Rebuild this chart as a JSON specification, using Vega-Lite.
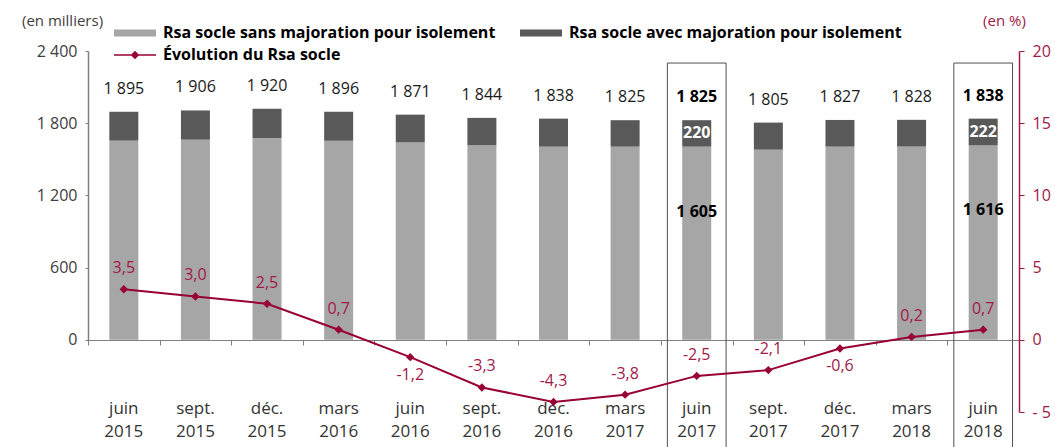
{
  "$schema": "https://vega.github.io/schema/vega-lite/v6.json",
  "width": 931,
  "height": 361,
  "autosize": {"type": "none"},
  "padding": {"left": 88, "top": 51, "right": 36, "bottom": 35},
  "background": "white",
  "config": {
    "font": "Open Sans",
    "view": {"stroke": null},
    "axis": {"grid": false},
    "locale": {"number": {"decimal": ",", "thousands": " ", "grouping": [3], "currency": ["", " €"], "minus": "-"}}
  },
  "data": {
    "values": [
      {"periode": "juin 2015", "sans": 1655, "avec": 240, "total": 1895, "evolution": 3.5},
      {"periode": "sept. 2015", "sans": 1663, "avec": 243, "total": 1906, "evolution": 3.0},
      {"periode": "déc. 2015", "sans": 1677, "avec": 243, "total": 1920, "evolution": 2.5},
      {"periode": "mars 2016", "sans": 1655, "avec": 241, "total": 1896, "evolution": 0.7},
      {"periode": "juin 2016", "sans": 1641, "avec": 230, "total": 1871, "evolution": -1.2},
      {"periode": "sept. 2016", "sans": 1619, "avec": 225, "total": 1844, "evolution": -3.3},
      {"periode": "déc. 2016", "sans": 1605, "avec": 233, "total": 1838, "evolution": -4.3},
      {"periode": "mars 2017", "sans": 1605, "avec": 220, "total": 1825, "evolution": -3.8},
      {"periode": "juin 2017", "sans": 1605, "avec": 220, "total": 1825, "evolution": -2.5},
      {"periode": "sept. 2017", "sans": 1580, "avec": 225, "total": 1805, "evolution": -2.1},
      {"periode": "déc. 2017", "sans": 1605, "avec": 222, "total": 1827, "evolution": -0.6},
      {"periode": "mars 2018", "sans": 1606, "avec": 222, "total": 1828, "evolution": 0.2},
      {"periode": "juin 2018", "sans": 1616, "avec": 222, "total": 1838, "evolution": 0.7}
    ]
  },
  "resolve": {"scale": {"y": "independent"}, "axis": {"x": "independent", "y": "independent"}},
  "layer": [
    {
      "resolve": {"axis": {"x": "independent"}},
      "layer": [
        {
          "transform": [{"filter": {"field": "periode", "oneOf": ["juin 2017", "juin 2018"]}}],
          "mark": {"type": "bar", "width": {"band": 0.82}, "filled": false, "stroke": "#505050", "strokeWidth": 1, "clip": false},
          "encoding": {
            "x": {"field": "periode", "type": "nominal", "sort": null,
              "scale": {"domain": ["juin 2015", "sept. 2015", "déc. 2015", "mars 2016", "juin 2016", "sept. 2016", "déc. 2016", "mars 2017", "juin 2017", "sept. 2017", "déc. 2017", "mars 2018", "juin 2018"], "paddingInner": 0, "paddingOuter": 0},
              "axis": {"orient": "bottom", "offset": -72, "labels": false, "domain": true, "domainColor": "#808080", "domainWidth": 1, "ticks": true, "tickColor": "#808080", "tickSize": 5, "tickBand": "extent", "title": null, "grid": false}},
            "y": {"datum": 2300, "type": "quantitative", "scale": {"domain": [-600, 2400], "nice": false, "zero": false},
              "axis": {"orient": "left", "values": [0, 600, 1200, 1800, 2400], "labelExpr": "format(datum.value, ',')", "labelFontSize": 16, "labelColor": "#404040", "labelPadding": 8,
                "ticks": true, "tickSize": 3, "tickColor": "#808080", "tickWidth": 1,
                "domain": true, "domainColor": "#808080", "domainWidth": 1.5, "domainDash": [0, 72, 289, 20], "zindex": 1,
                "title": "(en milliers)", "titleAngle": 0, "titleX": -26, "titleY": -31, "titleAlign": "center", "titleBaseline": "middle", "titleFontWeight": "normal", "titleFontSize": 15, "titleColor": "#404040"}},
            "y2": {"datum": -900}
          }
        },
        {
          "mark": {"type": "bar", "width": {"band": 0.405}},
          "encoding": {
            "x": {"field": "periode", "type": "nominal", "sort": null,
              "axis": {"orient": "bottom", "domain": false, "ticks": false, "labelPadding": -12, "labelExpr": "split(datum.value, ' ')", "labelFont": "Open Sans", "labelFontSize": 17, "labelLineHeight": 23, "labelColor": "#333333", "labelAngle": 0, "title": null}},
            "y": {"field": "sans", "type": "quantitative", "scale": {"domain": [-600, 2400], "nice": false, "zero": false}},
            "color": {"datum": "Rsa socle sans majoration pour isolement",
              "scale": {"domain": ["Rsa socle sans majoration pour isolement", "Rsa socle avec majoration pour isolement", "Évolution du Rsa socle"], "range": ["#a6a6a6", "#595959", "#990033"]},
              "legend": {"orient": "none", "legendX": 25, "legendY": -26, "columns": 2, "direction": "horizontal", "title": null,
                "symbolSize": 196, "labelOffset": 34, "columnPadding": 23, "rowPadding": 6,
                "labelFont": "Open Sans", "labelFontSize": 16, "labelFontWeight": "bold", "labelColor": "#000000", "labelLimit": 0,
                "encode": {"symbols": {"update": {
                  "fill": {"scale": "color", "field": "value"},
                  "stroke": {"value": "transparent"},
                  "strokeWidth": {"value": 0},
                  "opacity": {"value": 1},
                  "shape": {"signal": "datum.value === 'Évolution du Rsa socle' ? 'M-1,-0.1H5V0.1H-1Z M2,-0.6L2.6,0L2,0.6L1.4,0Z' : 'M-1,-0.5H5V0.5H-1Z'"}
                }}}}}
          }
        },
        {
          "mark": {"type": "bar", "width": {"band": 0.405}},
          "encoding": {
            "x": {"field": "periode", "type": "nominal", "sort": null, "axis": null},
            "y": {"field": "total", "type": "quantitative", "scale": {"domain": [-600, 2400], "nice": false, "zero": false}},
            "y2": {"field": "sans"},
            "color": {"datum": "Rsa socle avec majoration pour isolement"}
          }
        },
        {
          "transform": [{"filter": {"not": {"field": "periode", "oneOf": ["juin 2017", "juin 2018"]}}}],
          "mark": {"type": "text", "dy": -23, "fontSize": 16, "color": "#1a1a1a", "baseline": "middle"},
          "encoding": {
            "x": {"field": "periode", "type": "nominal", "sort": null, "axis": null},
            "y": {"field": "total", "type": "quantitative", "scale": {"domain": [-600, 2400], "nice": false, "zero": false}},
            "text": {"field": "total", "type": "quantitative", "format": ","}
          }
        },
        {
          "transform": [{"filter": {"field": "periode", "oneOf": ["juin 2017", "juin 2018"]}}],
          "mark": {"type": "text", "dy": -23, "fontSize": 16, "fontWeight": "bold", "color": "#000000", "baseline": "middle"},
          "encoding": {
            "x": {"field": "periode", "type": "nominal", "sort": null, "axis": null},
            "y": {"field": "total", "type": "quantitative", "scale": {"domain": [-600, 2400], "nice": false, "zero": false}},
            "text": {"field": "total", "type": "quantitative", "format": ","}
          }
        },
        {
          "transform": [{"filter": {"field": "periode", "oneOf": ["juin 2017", "juin 2018"]}}],
          "mark": {"type": "text", "dy": 13, "fontSize": 16, "fontWeight": "bold", "color": "#ffffff", "baseline": "middle"},
          "encoding": {
            "x": {"field": "periode", "type": "nominal", "sort": null, "axis": null},
            "y": {"field": "total", "type": "quantitative", "scale": {"domain": [-600, 2400], "nice": false, "zero": false}},
            "text": {"field": "avec", "type": "quantitative", "format": ","}
          }
        },
        {
          "transform": [{"filter": {"field": "periode", "oneOf": ["juin 2017", "juin 2018"]}}],
          "mark": {"type": "text", "dy": 65, "fontSize": 16, "fontWeight": "bold", "color": "#000000", "baseline": "middle"},
          "encoding": {
            "x": {"field": "periode", "type": "nominal", "sort": null, "axis": null},
            "y": {"field": "sans", "type": "quantitative", "scale": {"domain": [-600, 2400], "nice": false, "zero": false}},
            "text": {"field": "sans", "type": "quantitative", "format": ","}
          }
        }
      ]
    },
    {
      "layer": [
        {
          "mark": {"type": "line", "strokeWidth": 2},
          "encoding": {
            "x": {"field": "periode", "type": "nominal", "sort": null, "axis": null},
            "y": {"field": "evolution", "type": "quantitative", "scale": {"domain": [-5, 20], "nice": false, "zero": false},
              "axis": {"orient": "right", "values": [-5, 0, 5, 10, 15, 20], "labelExpr": "datum.value < 0 ? '- ' + abs(datum.value) : datum.label",
                "labelFontSize": 16, "labelColor": "#9e1a47", "labelPadding": 8, "tickSize": 5, "tickColor": "#9e1a47", "domainColor": "#9e1a47", "domainWidth": 1.5,
                "title": "(en %)", "titleAngle": 0, "titleX": -15, "titleY": -31, "titleAlign": "center", "titleBaseline": "middle", "titleFontWeight": "normal", "titleFontSize": 15, "titleColor": "#9e1a47"}},
            "color": {"datum": "Évolution du Rsa socle"}
          }
        },
        {
          "mark": {"type": "point", "shape": "diamond", "filled": true, "size": 70, "opacity": 1},
          "encoding": {
            "x": {"field": "periode", "type": "nominal", "sort": null, "axis": null},
            "y": {"field": "evolution", "type": "quantitative", "scale": {"domain": [-5, 20], "nice": false, "zero": false}},
            "color": {"datum": "Évolution du Rsa socle"}
          }
        },
        {
          "transform": [{"filter": {"not": {"field": "periode", "oneOf": ["juin 2016", "déc. 2017"]}}}],
          "mark": {"type": "text", "dy": -21, "fontSize": 16, "color": "#a3194a", "baseline": "middle"},
          "encoding": {
            "x": {"field": "periode", "type": "nominal", "sort": null, "axis": null},
            "y": {"field": "evolution", "type": "quantitative", "scale": {"domain": [-5, 20], "nice": false, "zero": false}},
            "text": {"field": "evolution", "type": "quantitative", "format": ".1f"}
          }
        },
        {
          "transform": [{"filter": {"field": "periode", "oneOf": ["juin 2016", "déc. 2017"]}}],
          "mark": {"type": "text", "dy": 18, "fontSize": 16, "color": "#a3194a", "baseline": "middle"},
          "encoding": {
            "x": {"field": "periode", "type": "nominal", "sort": null, "axis": null},
            "y": {"field": "evolution", "type": "quantitative", "scale": {"domain": [-5, 20], "nice": false, "zero": false}},
            "text": {"field": "evolution", "type": "quantitative", "format": ".1f"}
          }
        }
      ]
    }
  ]
}
